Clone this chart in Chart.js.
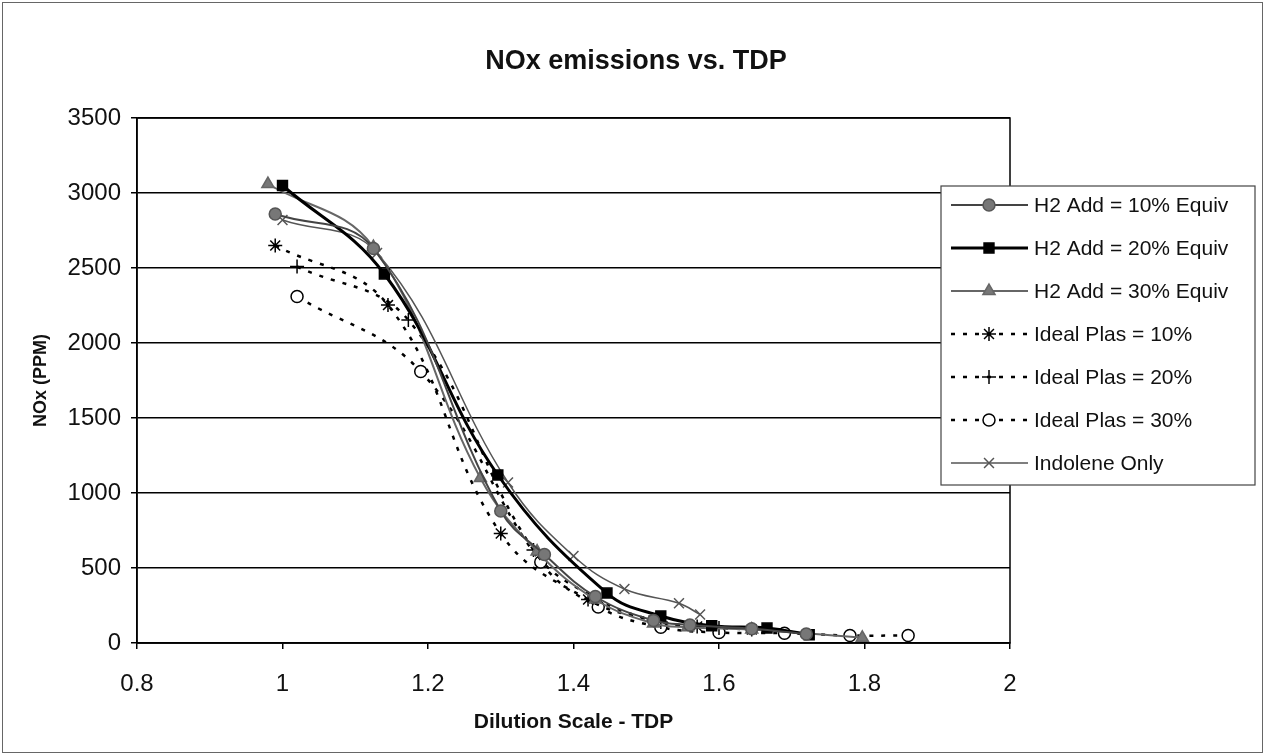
<!DOCTYPE html>
<html>
<head>
<meta charset="utf-8">
<title>NOx emissions vs. TDP</title>
<script src="https://cdn.jsdelivr.net/npm/chart.js@4.4.1/dist/chart.umd.min.js"></script>
<style>
  body { margin: 0; background: #fff; }
  #wrap { width: 1265px; height: 755px; }
</style>
</head>
<body>
<div id="wrap"><canvas id="myChart" width="1265" height="755"></canvas></div>
<script>
// values
var xTicks = [0.8, 1, 1.2, 1.4, 1.6, 1.8, 2];
var yTicks = [0, 500, 1000, 1500, 2000, 2500, 3000, 3500];

var h2Add10X = [0.99, 1.125, 1.30, 1.36, 1.43, 1.51, 1.56, 1.645, 1.72];
var h2Add10Y = [2860, 2630, 880, 590, 310, 150, 120, 95, 60];

var h2Add20X = [1.0, 1.14, 1.296, 1.446, 1.52, 1.59, 1.666, 1.724];
var h2Add20Y = [3050, 2460, 1120, 333, 180, 115, 100, 55];

var h2Add30X = [0.98, 1.125, 1.272, 1.35, 1.43, 1.51, 1.557, 1.645, 1.797];
var h2Add30Y = [3060, 2640, 1100, 610, 290, 130, 105, 90, 35];

var plas10X = [0.99, 1.145, 1.30, 1.42, 1.51, 1.57, 1.645];
var plas10Y = [2650, 2253, 730, 290, 150, 110, 90];

var plas20X = [1.02, 1.173, 1.345, 1.43, 1.52, 1.60];
var plas20Y = [2510, 2153, 620, 300, 140, 100];

var plas30X = [1.02, 1.19, 1.355, 1.434, 1.52, 1.60, 1.69, 1.78, 1.86];
var plas30Y = [2310, 1810, 540, 240, 105, 70, 65, 50, 50];

var indoleneX = [1.0, 1.13, 1.31, 1.40, 1.47, 1.545, 1.574];
var indoleneY = [2820, 2600, 1070, 580, 360, 265, 190];

function pts(xs, ys) {
  var out = [];
  for (var i = 0; i < xs.length; i++) out.push({ x: xs[i], y: ys[i] });
  return out;
}

var FONT = "'Liberation Sans', Arial, sans-serif";

var series = [
  { label: 'H2 Add = 10% Equiv', data: pts(h2Add10X, h2Add10Y), color: '#444', line: 2, dash: [], style: 'circle', radius: 6, fill: '#777', pcolor: '#555' },
  { label: 'H2 Add = 20% Equiv', data: pts(h2Add20X, h2Add20Y), color: '#000', line: 3, dash: [], style: 'rect', radius: 7, fill: '#000', pcolor: '#000' },
  { label: 'H2 Add = 30% Equiv', data: pts(h2Add30X, h2Add30Y), color: '#666', line: 2, dash: [], style: 'triangle', radius: 7, fill: '#777', pcolor: '#666' },
  { label: 'Ideal Plas = 10%', data: pts(plas10X, plas10Y), color: '#000', line: 2.5, dash: [4, 8], style: 'star', radius: 7, fill: '#000', pcolor: '#000' },
  { label: 'Ideal Plas = 20%', data: pts(plas20X, plas20Y), color: '#000', line: 2.5, dash: [4, 8], style: 'cross', radius: 7, fill: '#000', pcolor: '#000' },
  { label: 'Ideal Plas = 30%', data: pts(plas30X, plas30Y), color: '#000', line: 2.5, dash: [4, 8], style: 'circle', radius: 6, fill: '#fff', pcolor: '#000' },
  { label: 'Indolene Only', data: pts(indoleneX, indoleneY), color: '#555', line: 1.5, dash: [], style: 'crossRot', radius: 7, fill: '#555', pcolor: '#555' }
];

var datasets = series.map(function (s) {
  return {
    label: s.label,
    data: s.data,
    showLine: true,
    tension: 0.4,
    borderColor: s.color,
    borderWidth: s.line,
    borderDash: s.dash,
    pointStyle: s.style,
    pointRadius: s.radius,
    pointBackgroundColor: s.fill,
    pointBorderColor: s.pcolor,
    pointBorderWidth: 1.5,
    fill: false
  };
});

var frame = {
  id: 'frame',
  afterDraw: function (chart) {
    var c = chart.ctx, a = chart.chartArea;
    c.save();
    // plot border
    c.strokeStyle = '#000';
    c.lineWidth = 1.5;
    c.strokeRect(a.left, a.top, a.right - a.left, a.bottom - a.top);
    // outer border
    c.strokeStyle = '#666';
    c.lineWidth = 1;
    c.strokeRect(2.5, 2.5, 1260, 750);
    // title
    c.fillStyle = '#111';
    c.font = 'bold 27px ' + FONT;
    c.textAlign = 'center';
    c.textBaseline = 'middle';
    c.fillText('NOx emissions vs. TDP', 636, 62);
    // legend box
    var lx = 941, ly = 186, lw = 314, lh = 299;
    c.fillStyle = '#fff';
    c.fillRect(lx, ly, lw, lh);
    c.strokeStyle = '#444';
    c.lineWidth = 1.2;
    c.strokeRect(lx, ly, lw, lh);
    c.font = '21px ' + FONT;
    c.textAlign = 'left';
    series.forEach(function (s, i) {
      var y = 205 + i * 43;
      c.strokeStyle = s.color;
      c.lineWidth = s.line;
      c.setLineDash(s.dash);
      c.beginPath();
      c.moveTo(951, y);
      c.lineTo(1028, y);
      c.stroke();
      c.setLineDash([]);
      c.fillStyle = s.fill;
      c.strokeStyle = s.pcolor;
      c.lineWidth = 1.5;
      Chart.helpers.drawPoint(c, { pointStyle: s.style, radius: s.radius, rotation: 0, borderWidth: 1.5 }, 989, y);
      c.fillStyle = '#111';
      c.fillText(s.label, 1034, y + 1);
    });
    c.restore();
  }
};

function plain(v) { return String(v); }

var ctx = document.getElementById('myChart').getContext('2d');
var myChart = new Chart(ctx, {
  type: 'scatter',
  data: { datasets: datasets },
  options: {
    responsive: false,
    animation: false,
    layout: { padding: { top: 118, right: 255, bottom: 0, left: 0 } },
    plugins: {
      legend: { display: false },
      title: { display: false },
      tooltip: { enabled: false }
    },
    scales: {
      x: {
        type: 'linear',
        min: 0.8,
        max: 2,
        afterBuildTicks: function (axis) {
          axis.ticks = xTicks.map(function (v) { return { value: v }; });
        },
        afterFit: function (axis) { axis.height = 112; },
        ticks: { color: '#111', font: { family: FONT, size: 24 }, padding: 21, maxRotation: 0, callback: plain },
        grid: { drawOnChartArea: false, color: '#000', tickLength: 6, lineWidth: 1.5 },
        border: { color: '#000', width: 1.5 },
        title: { display: true, text: 'Dilution Scale - TDP', color: '#111', font: { family: FONT, size: 21, weight: 'bold' }, padding: { top: 0, bottom: 20 } }
      },
      y: {
        type: 'linear',
        min: 0,
        max: 3500,
        afterBuildTicks: function (axis) {
          axis.ticks = yTicks.map(function (v) { return { value: v }; });
        },
        afterFit: function (axis) { axis.width = 137; },
        ticks: { color: '#111', font: { family: FONT, size: 24 }, padding: 10, callback: plain },
        grid: { color: '#000', lineWidth: 1.5, tickLength: 6 },
        border: { color: '#000', width: 1.5 },
        title: { display: true, text: 'NOx (PPM)', color: '#111', font: { family: FONT, size: 18, weight: 'bold' }, padding: { top: 30, bottom: 0 } }
      }
    }
  },
  plugins: [frame]
});
</script>
</body>
</html>
